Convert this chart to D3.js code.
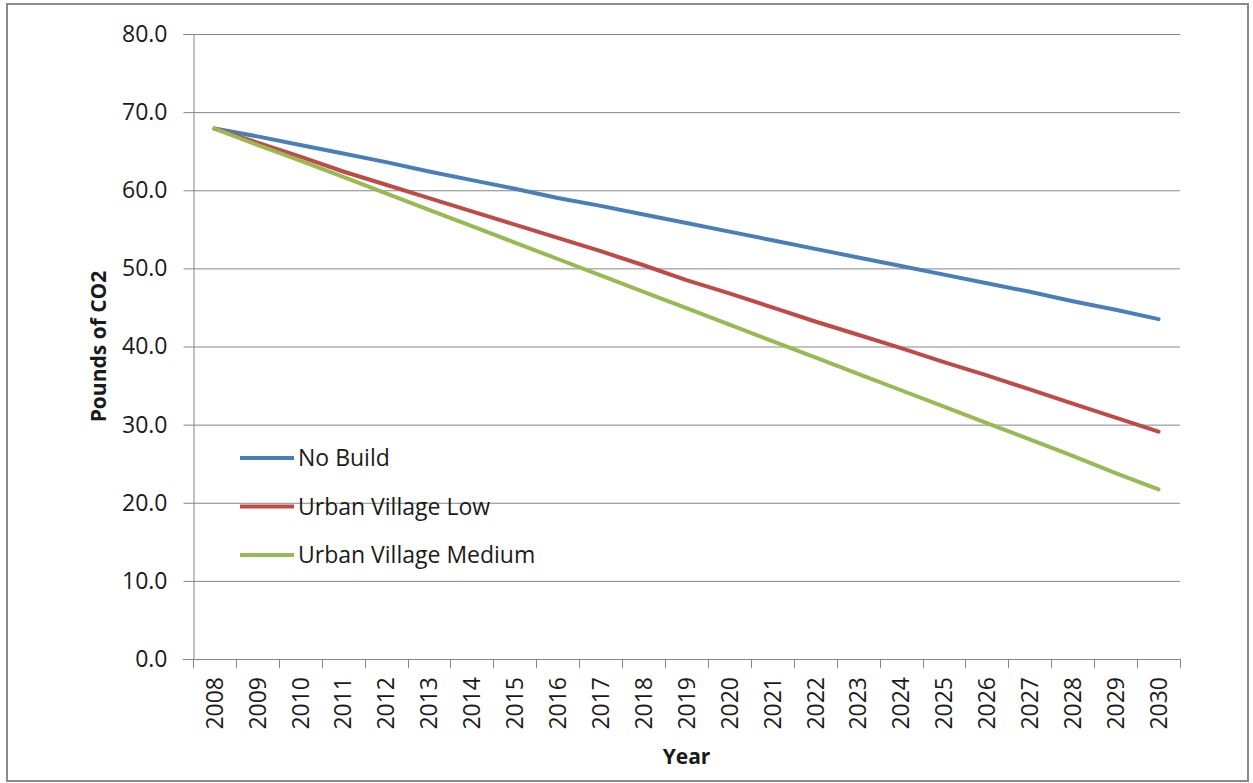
<!DOCTYPE html>
<html>
<head>
<meta charset="utf-8">
<script src="https://cdn.jsdelivr.net/npm/d3@7"></script>
<style>
  html, body { margin: 0; padding: 0; background: #fff; }
  svg { display: block; }
  text { font-family: "Open Sans", "DejaVu Sans", sans-serif; fill: #1a1a1a; }
</style>
</head>
<body>
<svg id="chart" width="1253" height="783"></svg>
<script>
// Years on the category axis
const years = [2008, 2009, 2010, 2011, 2012, 2013, 2014, 2015, 2016, 2017, 2018,
               2019, 2020, 2021, 2022, 2023, 2024, 2025, 2026, 2027, 2028, 2029, 2030];

// Pounds of CO2 per scenario, one value per year
const noBuild = [67.9, 66.9, 65.8, 64.7, 63.6, 62.4, 61.3, 60.2, 59.0, 58.0, 56.9,
                 55.8, 54.7, 53.6, 52.5, 51.4, 50.3, 49.2, 48.1, 47.0, 45.8, 44.7, 43.5];
const urbanVillageLow = [67.9, 66.1, 64.3, 62.4, 60.7, 59.0, 57.3, 55.6, 53.9, 52.2, 50.4,
                         48.5, 46.8, 45.0, 43.2, 41.5, 39.8, 38.0, 36.3, 34.5, 32.7, 30.9, 29.1];
const urbanVillageMedium = [67.9, 65.8, 63.8, 61.7, 59.6, 57.5, 55.4, 53.3, 51.2, 49.1, 47.0,
                            44.9, 42.8, 40.7, 38.6, 36.5, 34.4, 32.3, 30.2, 28.1, 26.0, 23.8, 21.7];

const seriesNames = ["No Build", "Urban Village Low", "Urban Village Medium"];
const seriesColors = ["#4A7EBB", "#BE4B48", "#98B954"];
const yTicks = [0, 10, 20, 30, 40, 50, 60, 70, 80];

const seriesList = [noBuild, urbanVillageLow, urbanVillageMedium].map((vals, k) => ({
  name: seriesNames[k],
  color: seriesColors[k],
  values: vals.map((v, i) => ({ year: years[i], value: v }))
}));

const svg = d3.select("#chart");
const plot = { left: 193, right: 1180, top: 34, bottom: 659 };

// Outer chart frame
svg.append("rect")
  .attr("x", 7).attr("y", 4).attr("width", 1241).attr("height", 777)
  .attr("fill", "#fff").attr("stroke", "#8a8a8a").attr("stroke-width", 2);

const x = d3.scaleBand().domain(years).range([plot.left, plot.right]).padding(0);
const y = d3.scaleLinear().domain([0, 80]).range([plot.bottom, plot.top]);

// Horizontal gridlines
svg.append("g")
  .selectAll("line")
  .data(yTicks.filter(t => t > 0))
  .join("line")
  .attr("x1", plot.left).attr("x2", plot.right)
  .attr("y1", d => y(d) + 0.5).attr("y2", d => y(d) + 0.5)
  .attr("stroke", "#878787").attr("stroke-width", 1);

// Value axis
const yAxis = d3.axisLeft(y).tickValues(yTicks).tickFormat(d3.format(".1f"))
  .tickSize(10).tickPadding(16);
const gy = svg.append("g").attr("transform", `translate(${plot.left + 0.5},0)`).call(yAxis);
gy.select(".domain").attr("stroke", "#878787");
gy.selectAll(".tick line").attr("stroke", "#878787");
gy.selectAll(".tick text")
  .style("font-family", "'Open Sans', sans-serif")
  .style("font-size", "23px").attr("fill", "#1a1a1a");

// Category axis: baseline, ticks between categories, rotated labels
const gx = svg.append("g");
gx.append("line")
  .attr("x1", plot.left - 10).attr("x2", plot.right)
  .attr("y1", plot.bottom + 0.5).attr("y2", plot.bottom + 0.5)
  .attr("stroke", "#878787");
const boundaries = years.map(yr => x(yr)).concat([x.range()[1]]);
gx.selectAll("line.tick")
  .data(boundaries)
  .join("line")
  .attr("class", "tick")
  .attr("x1", d => Math.round(d) + 0.5).attr("x2", d => Math.round(d) + 0.5)
  .attr("y1", plot.bottom).attr("y2", plot.bottom + 9)
  .attr("stroke", "#878787");
gx.selectAll("text")
  .data(years)
  .join("text")
  .attr("transform", d => `translate(${x(d) + x.bandwidth() / 2},${plot.bottom + 18}) rotate(-90)`)
  .attr("text-anchor", "end")
  .attr("dy", "0.36em")
  .style("font-size", "23px")
  .text(d => d);

// Scenario lines
const line = d3.line()
  .x(d => x(d.year) + x.bandwidth() / 2)
  .y(d => y(d.value));
svg.append("g")
  .selectAll("path")
  .data(seriesList)
  .join("path")
  .attr("d", d => line(d.values))
  .attr("fill", "none")
  .attr("stroke", d => d.color)
  .attr("stroke-width", 4)
  .attr("stroke-linejoin", "round")
  .attr("stroke-linecap", "round");

// Legend inside the plot area
const legend = svg.append("g").attr("transform", "translate(240,458)");
const item = legend.selectAll("g")
  .data(seriesList)
  .join("g")
  .attr("transform", (d, i) => `translate(0,${i * 48.5})`);
item.append("line")
  .attr("x1", 0).attr("x2", 54).attr("y1", 0).attr("y2", 0)
  .attr("stroke", d => d.color).attr("stroke-width", 4);
item.append("text")
  .attr("x", 58).attr("dy", "0.36em")
  .style("font-size", "23px")
  .text(d => d.name);

// Axis titles
svg.append("text")
  .attr("transform", `translate(98,${(plot.top + plot.bottom) / 2}) rotate(-90)`)
  .attr("text-anchor", "middle").attr("dy", "0.36em")
  .style("font-size", "21px").style("font-weight", "bold")
  .text("Pounds of CO2");
svg.append("text")
  .attr("x", (plot.left + plot.right) / 2).attr("y", 756)
  .attr("text-anchor", "middle").attr("dy", "0.36em")
  .style("font-size", "21px").style("font-weight", "bold")
  .text("Year");
</script>
</body>
</html>
